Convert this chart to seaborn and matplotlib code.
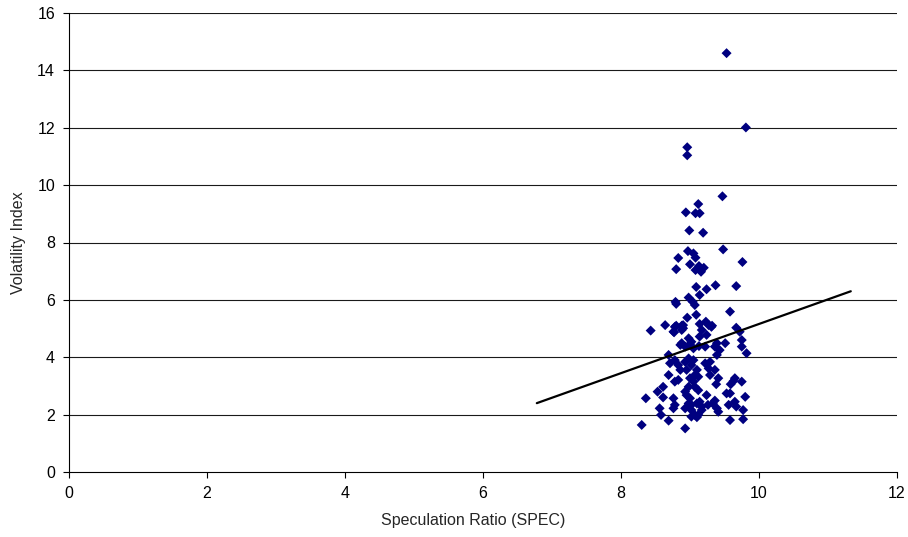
import matplotlib
matplotlib.use("Agg")
import matplotlib.pyplot as plt
import seaborn as sns
import pandas as pd

spec = [9.53, 9.81, 8.96, 8.96, 9.47, 9.12, 8.94, 9.08, 9.14, 8.99, 9.19,
        9.48, 8.97, 9.05, 9.08, 8.83, 9.76, 9.00, 9.13, 9.20, 9.08, 9.16, 8.80,
        9.09, 9.24, 9.37, 9.67, 9.14, 8.98,
        8.79, 8.80, 9.04, 9.07, 9.58, 8.96, 9.09, 8.64, 8.80, 8.88, 9.14, 9.23, 9.32, 9.67,
        8.43, 8.77, 8.90, 8.76, 8.88, 8.78, 8.90, 9.27, 9.31, 9.17, 9.24, 9.14, 8.98, 9.02,
        8.88, 9.72, 9.75, 9.39, 9.51,
        8.86, 8.93, 9.00, 9.05, 9.13, 9.22, 9.36, 9.43, 9.39, 9.75, 9.82,
        8.69, 8.78, 8.71, 8.83, 8.93, 8.98, 9.05, 9.02, 8.86, 8.95, 9.10, 9.07, 9.22, 9.29,
        9.27, 9.36, 9.29, 9.41,
        8.69, 8.78, 8.83, 9.00, 9.05, 9.12, 9.07, 8.98, 8.61, 9.65, 9.63, 9.75, 9.38, 9.59,
        8.53, 8.61, 8.36, 8.76, 8.93, 8.95, 9.00, 9.12, 9.24, 9.14, 9.53, 9.58, 9.80, 9.65, 9.36,
        8.78, 8.76, 8.56, 8.98, 9.02, 9.10, 9.17, 8.93, 9.02, 9.17, 9.26, 9.33, 9.39, 9.41,
        9.56, 9.67, 9.77,
        8.58, 8.69, 8.30, 9.07, 9.02, 9.12, 8.93, 9.58, 9.77, 9.10]
vol = [14.60, 12.01, 11.32, 11.04, 9.61, 9.34, 9.05, 9.02, 9.02, 8.42, 8.34,
       7.76, 7.70, 7.62, 7.47, 7.46, 7.32, 7.24, 7.18, 7.12, 7.04, 6.98, 7.07,
       6.45, 6.37, 6.51, 6.48, 6.17, 6.08,
       5.93, 5.86, 5.93, 5.82, 5.59, 5.38, 5.48, 5.12, 5.10, 5.10, 5.16, 5.24, 5.10, 5.03,
       4.93, 4.87, 5.01, 4.89, 4.95, 5.06, 5.12, 5.12, 5.06, 4.95, 4.78, 4.72, 4.66, 4.54,
       4.49, 4.89, 4.60, 4.49, 4.49,
       4.43, 4.37, 4.46, 4.31, 4.39, 4.37, 4.37, 4.25, 4.08, 4.37, 4.14,
       4.08, 3.90, 3.79, 3.73, 3.84, 3.96, 3.90, 3.73, 3.56, 3.56, 3.56, 3.38, 3.79, 3.84,
       3.61, 3.56, 3.38, 3.27,
       3.38, 3.15, 3.21, 3.27, 3.15, 3.32, 2.97, 2.97, 2.97, 3.27, 3.17, 3.15, 3.06, 3.06,
       2.80, 2.60, 2.57, 2.57, 2.80, 2.68, 2.57, 2.85, 2.68, 2.45, 2.74, 2.74, 2.62, 2.45, 2.49,
       2.34, 2.22, 2.22, 2.39, 2.34, 2.39, 2.28, 2.22, 2.16, 2.16, 2.34, 2.39, 2.22, 2.10,
       2.34, 2.28, 2.16,
       1.99, 1.79, 1.64, 1.99, 1.93, 1.99, 1.52, 1.81, 1.84, 1.91]

trend_x = [6.78, 11.33]
trend_y = [2.40, 6.30]

x_ticks = [0, 2, 4, 6, 8, 10, 12]
y_ticks = [0, 2, 4, 6, 8, 10, 12, 14, 16]

df = pd.DataFrame({"SPEC": spec, "VOL": vol})
trend = pd.DataFrame({"x": trend_x, "y": trend_y})

sns.set_style("white")
plt.rcParams['font.family'] = ['Liberation Sans', 'DejaVu Sans']

fig = plt.figure(figsize=(9.08, 5.37), dpi=100)
ax = fig.add_axes([69/908, 1 - 472/537, (897-69)/908, (472-13)/537])

for yv in y_ticks[1:]:
    ax.axhline(yv, color="#1a1a1a", lw=0.8, zorder=0)

sns.scatterplot(data=df, x="SPEC", y="VOL", ax=ax, marker="D", s=26,
                color="#000080", edgecolor="none", linewidth=0, zorder=3)
sns.lineplot(data=trend, x="x", y="y", ax=ax, color="black", lw=1.6, zorder=4)

ax.set_xlim(0, 12)
ax.set_ylim(0, 16)
ax.set_xticks(x_ticks)
ax.set_yticks(y_ticks)
ax.tick_params(axis="both", direction="out", length=4, width=0.8, color="black",
               labelsize=11.5, labelcolor="black", left=True, bottom=True, pad=6)
for s in ["top", "right"]:
    ax.spines[s].set_visible(False)
for s in ["left", "bottom"]:
    ax.spines[s].set_color("black")
    ax.spines[s].set_linewidth(0.8)
ax.set_xlabel("Speculation Ratio (SPEC)", fontsize=11.5)
ax.set_ylabel("Volatility Index", fontsize=11.5, labelpad=8)
ax.xaxis.set_label_coords((473 - 69) / 828, -(521 - 472) / 459, transform=ax.transAxes)
ax.xaxis.label.set_va("center")

fig.savefig("out.png", dpi=100)
